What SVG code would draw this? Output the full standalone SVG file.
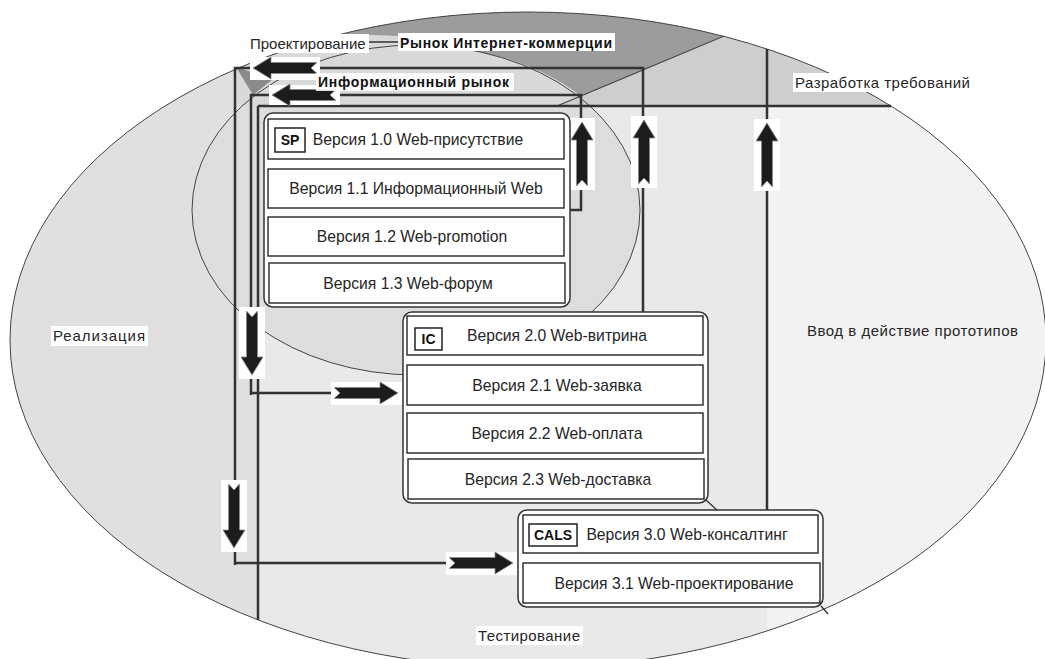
<svg xmlns="http://www.w3.org/2000/svg" width="1045" height="659" viewBox="0 0 1045 659">
<style>
.t{font-family:"Liberation Sans",Arial,sans-serif;font-size:15px;fill:#262626}
.r{font-size:15.7px}
.tb{font-family:"Liberation Sans",Arial,sans-serif;font-size:14px;font-weight:bold;fill:#111}
.c{text-anchor:middle}
.row{fill:#fff;stroke:#333;stroke-width:1.5}
.outer{fill:#fff;stroke:#333;stroke-width:1.5}
.tag{fill:#fff;stroke:#222;stroke-width:1.5}
.ln{fill:none;stroke:#333;stroke-width:2.5}
.thin{fill:none;stroke:#444;stroke-width:1}
.bg{fill:#fff}
.arr{fill:#1c1c1c;stroke:#8a8a8a;stroke-width:0.8}
</style>
<defs>
<clipPath id="cBig"><ellipse cx="528" cy="340" rx="518" ry="328"/></clipPath>
<path id="arw" d="M0,0 L-18,-11 L-18,-5.5 L-64,-5.5 L-58,0 L-64,5.5 L-18,5.5 L-18,11 Z"/>
</defs>
<rect width="1045" height="659" fill="#fff"/>
<g id="regions" clip-path="url(#cBig)">
<rect x="0" y="0" width="1045" height="659" fill="#e9e9e9"/>
<rect x="0" y="0" width="258" height="659" fill="#e0e0e0"/>
<rect x="767" y="106" width="300" height="600" fill="#f2f2f2"/>
<ellipse cx="416" cy="210" rx="224" ry="165" fill="#dddddd"/>
<rect x="237" y="0" width="810" height="106" fill="#d9d9d9"/>
<polygon points="557,106 808,0 1045,0 1045,106" fill="#cecece"/>
<path d="M330,0 L808,0 L581,96 A224,165 0 0,0 470,50 L400,36 L343,34 Z" fill="#9c9c9c"/>
<polygon points="236,67 273,79 253,95" fill="#8a8a8a"/>
</g>
<g id="outlines">
<ellipse cx="528" cy="340" rx="518" ry="328" class="thin"/>
<ellipse cx="416" cy="210" rx="224" ry="165" class="thin"/>
<line x1="557" y1="106" x2="724" y2="36" stroke="#444" stroke-width="1.3"/>
<line x1="706" y1="500" x2="718" y2="511" stroke="#333" stroke-width="1.3"/>
<line x1="821" y1="606" x2="828" y2="614" stroke="#333" stroke-width="1.3"/>
</g>
<g id="connectors">
<polyline class="ln" points="570,210 581,210 581,95 251,95 251,395"/>
<line class="ln" x1="251" y1="393" x2="340" y2="393"/>
<polyline class="ln" points="643,312 643,68 235,68 235,565"/>
<line class="ln" x1="235" y1="563" x2="455" y2="563"/>
<line class="ln" x1="767" y1="510" x2="767" y2="49"/>
<line class="ln" x1="258" y1="106" x2="891" y2="106"/>
<line class="ln" x1="258" y1="106" x2="258" y2="620"/>
<line x1="369" y1="42" x2="400" y2="42" stroke="#333" stroke-width="1.5"/>
<rect class="bg" x="250" y="57" width="70" height="23"/>
<use href="#arw" class="arr" transform="translate(253,68) rotate(180)"/>
<rect class="bg" x="269" y="85" width="71" height="20"/>
<use href="#arw" class="arr" transform="translate(272,95) rotate(180)"/>
<rect class="bg" x="569" y="118" width="26" height="72"/>
<use href="#arw" class="arr" transform="translate(582,122) rotate(-90)"/>
<rect class="bg" x="631" y="116" width="26" height="72"/>
<use href="#arw" class="arr" transform="translate(644,120) rotate(-90)"/>
<rect class="bg" x="754" y="119" width="26" height="72"/>
<use href="#arw" class="arr" transform="translate(767,123) rotate(-90)"/>
<rect class="bg" x="239" y="307" width="26" height="72"/>
<use href="#arw" class="arr" transform="translate(252,375) rotate(90)"/>
<rect class="bg" x="331" y="382" width="71" height="23"/>
<use href="#arw" class="arr" transform="translate(398,393)"/>
<rect class="bg" x="221" y="480" width="26" height="72"/>
<use href="#arw" class="arr" transform="translate(234,548) rotate(90)"/>
<rect class="bg" x="446" y="552" width="71" height="23"/>
<use href="#arw" class="arr" transform="translate(513,563)"/>
</g>
<g id="node-sp">
<rect class="outer" x="264" y="113" width="306" height="194" rx="9"/>
<rect class="row" x="268" y="119" width="296" height="40"/>
<rect class="row" x="268" y="169" width="296" height="39"/>
<rect class="row" x="268" y="217" width="296" height="39"/>
<rect class="row" x="269" y="263" width="296" height="40"/>
<rect class="tag" x="275" y="128" width="30" height="24"/>
<text class="tb c" x="290" y="145">SP</text>
<text class="t r c" x="418" y="145">Версия 1.0 Web-присутствие</text>
<text class="t r c" x="416" y="194">Версия 1.1 Информационный Web</text>
<text class="t r c" x="412" y="242">Версия 1.2 Web-promotion</text>
<text class="t r c" x="408" y="289">Версия 1.3 Web-форум</text>
</g>
<g id="node-ic">
<rect class="outer" x="403" y="312" width="305" height="191" rx="9"/>
<rect class="row" x="407" y="316" width="296" height="39"/>
<rect class="row" x="407" y="365" width="296" height="40"/>
<rect class="row" x="407" y="413" width="296" height="40"/>
<rect class="row" x="408" y="459" width="296" height="40"/>
<rect class="tag" x="415" y="328" width="27" height="22"/>
<text class="tb c" x="428.5" y="344">IC</text>
<text class="t r c" x="557" y="341">Версия 2.0 Web-витрина</text>
<text class="t r c" x="557" y="391">Версия 2.1 Web-заявка</text>
<text class="t r c" x="557" y="439">Версия 2.2 Web-оплата</text>
<text class="t r c" x="558" y="485">Версия 2.3 Web-доставка</text>
</g>
<g id="node-cals">
<rect class="outer" x="518" y="510" width="305" height="97" rx="9"/>
<rect class="row" x="523" y="515" width="295" height="38"/>
<rect class="row" x="523" y="563" width="297" height="40"/>
<rect class="tag" x="529" y="524" width="48" height="22"/>
<text class="tb c" x="553" y="540">CALS</text>
<text class="t r c" x="687" y="540">Версия 3.0 Web-консалтинг</text>
<text class="t r c" x="674" y="589">Версия 3.1 Web-проектирование</text>
</g>
<g id="labels">
<rect class="bg" x="248" y="34" width="121" height="19"/>
<text class="t" x="250" y="49">Проектирование</text>
<rect class="bg" x="398" y="33" width="217" height="18"/>
<text class="tb" x="400" y="48" textLength="212" lengthAdjust="spacing">Рынок Интернет-коммерции</text>
<rect class="bg" x="316" y="73" width="198" height="18" fill-opacity="0.85"/>
<text class="tb" x="318" y="87" textLength="191" lengthAdjust="spacing">Информационный рынок</text>
<rect class="bg" x="793" y="73" width="180" height="19"/>
<text class="t" x="795" y="88" textLength="175" lengthAdjust="spacing">Разработка требований</text>
<rect class="bg" x="51" y="326" width="97" height="20"/>
<text class="t" x="53" y="341" textLength="92" lengthAdjust="spacing">Реализация</text>
<text class="t" x="807" y="336" textLength="211" lengthAdjust="spacing">Ввод в действие прототипов</text>
<rect class="bg" x="476" y="626" width="107" height="19"/>
<text class="t" x="478" y="641" textLength="102" lengthAdjust="spacing">Тестирование</text>
</g>
</svg>
